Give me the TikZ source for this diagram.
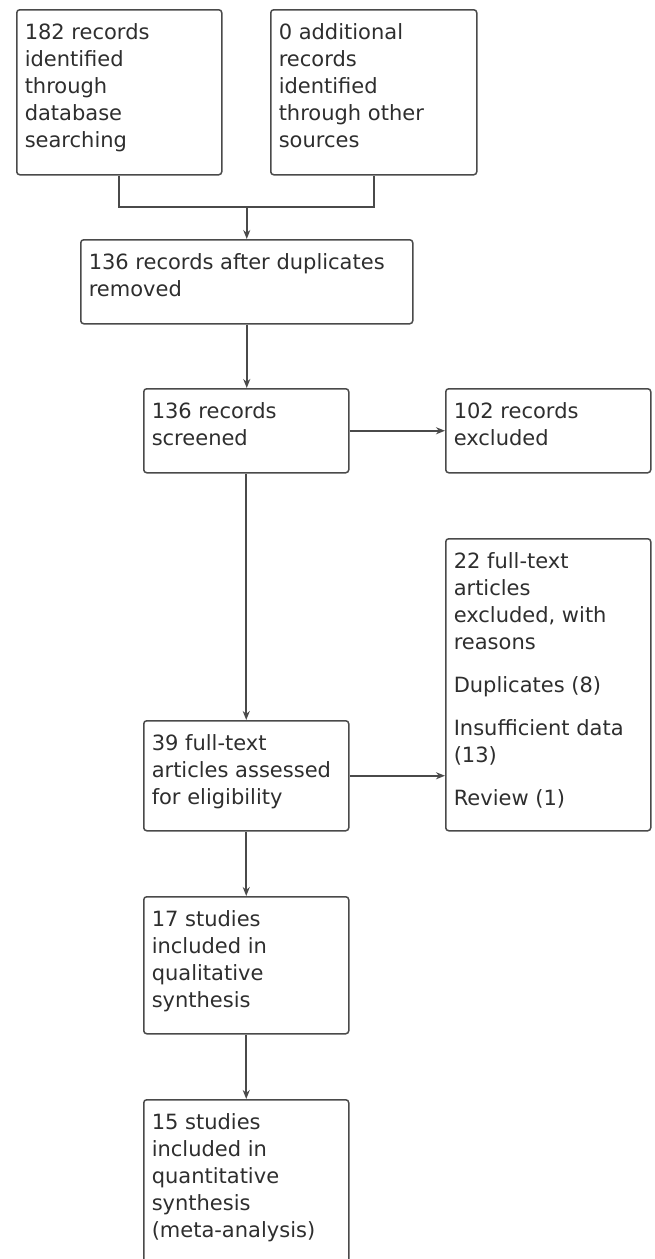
\documentclass[tikz,border=0pt]{standalone}
\usepackage{fontspec}
\setmainfont{DejaVu Sans}
\usetikzlibrary{arrows.meta}
\definecolor{linegray}{HTML}{4A4A4A}
\definecolor{textgray}{HTML}{2E2E2E}
\newcommand{\stagetext}[3]{\parbox[c][#2][t]{#1}{\raggedright\rule{0pt}{22pt}#3}}

\begin{document}
\begin{tikzpicture}[x=1pt, y=-1pt]
                \useasboundingbox (0,0) rectangle (654,1259);
                \clip (0,0) rectangle (654,1259);
                \begin{scope}[every node/.style={draw=linegray, line width=1.5pt, rounded corners=3pt, anchor=north west, inner xsep=8pt, inner ysep=8pt, text=textgray, font=\fontsize{21}{27}\selectfont}]
                        \node (idrec) at (16,9) {\stagetext{189pt}{149pt}{182 records\\identified\\through\\database\\searching}};
                        \node (othrec) at (270,9) {\stagetext{190pt}{149pt}{0 additional\\records\\identified\\through other\\sources}};
                        \node (dedup) at (80,239) {\stagetext{316pt}{68pt}{136 records after duplicates\\removed}};
                        \node (screen) at (143,388) {\stagetext{189pt}{68pt}{136 records\\screened}};
                        \node (excl) at (445,388) {\stagetext{189pt}{68pt}{102 records\\excluded}};
                        \node (fullexcl) at (445,538) {\stagetext{189pt}{276pt}{22 full-text\\articles\\excluded, with\\reasons\\[16pt]Duplicates (8)\\[16pt]Insufficient data\\(13)\\[16pt]Review (1)}};
                        \node (elig) at (143,720) {\stagetext{189pt}{94pt}{39 full-text\\articles assessed\\for eligibility}};
                        \node (qual) at (143,896) {\stagetext{189pt}{121pt}{17 studies\\included in\\qualitative\\synthesis}};
                        \node (quant) at (143,1099) {\stagetext{189pt}{200pt}{15 studies\\included in\\quantitative\\synthesis\\(meta-analysis)}};
                \end{scope}
                \coordinate (join) at (dedup.north |- 0,207);
                \begin{scope}[line width=1.6pt, color=linegray, >={Stealth[length=9pt,width=7pt]}]
                        \draw (idrec.south) |- (join) -| (othrec.south);
                        \draw[->] (join) -- (dedup.north);
                        \draw[->] (dedup.south) -- (dedup.south |- screen.north);
                        \draw[->] (screen) -- (excl);
                        \draw[->] (screen) -- (elig);
                        \draw[->] (elig) -- (elig -| fullexcl.west);
                        \draw[->] (elig) -- (qual);
                        \draw[->] (qual) -- (quant);
                \end{scope}
        \end{tikzpicture}
\end{document}
